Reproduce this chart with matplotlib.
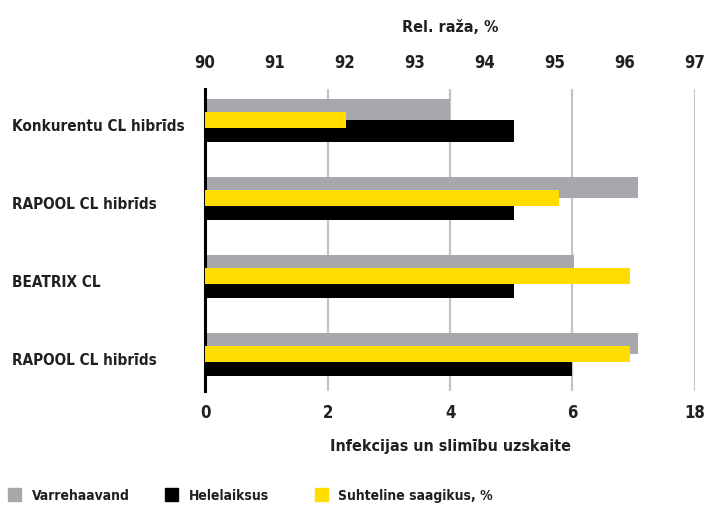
import numpy as np
import matplotlib
matplotlib.use("Agg")
from matplotlib import pyplot as plt
from matplotlib import font_manager
from matplotlib.patches import Rectangle

# look for a narrow / condensed face, otherwise fall back to DejaVu Sans
narrow = None
for f in font_manager.fontManager.ttflist:
    if ('Narrow' in f.name or 'Condensed' in f.name or f.stretch in ('condensed', 'semi-condensed')) and f.weight in ('bold', 700):
        narrow = f
        break
scale = 1.0
if narrow is not None:
    plt.rcParams['font.family'] = [narrow.name, 'DejaVu Sans']
    plt.rcParams['font.stretch'] = narrow.stretch
else:
    plt.rcParams['font.family'] = ['DejaVu Sans']
    scale = 0.8
plt.rcParams['font.weight'] = 'bold'

categories = ["Konkurentu CL hibrīds", "RAPOOL CL hibrīds", "BEATRIX CL", "RAPOOL CL hibrīds"]
varrehaavand = [4.0, 7.07, 6.02, 7.07]
helelaiksus = [5.05, 5.05, 5.05, 6.0]
saagikus = [92.01, 95.06, 96.07, 96.07]
bottom_ticks = [0, 2, 4, 6, 8]
bottom_labels = ["0", "2", "4", "6", "18"]
top_ticks = [90, 91, 92, 93, 94, 95, 96, 97]

grey = "#a7a8ab"
yellow = "#ffdd00"
txt = "#231f20"

fig = plt.figure(figsize=(7.05, 5.06), dpi=100)
ax = fig.add_axes([0.2908, 0.2253, 0.695, 0.597])

y = np.arange(len(categories))
h = 0.276
ax.barh(y - h / 2 + 0.02, varrehaavand, height=h, color=grey, zorder=2)
ax.barh(y + h / 2 + 0.02, helelaiksus, height=h, color="black", zorder=2)
ax.set_xlim(0, 8)
ax.set_ylim(3.49, -0.385)
ax.set_xticks(bottom_ticks)
ax.set_xticklabels(bottom_labels, fontsize=12 * scale, color=txt, fontweight='bold')
ax.tick_params(axis='x', length=0, pad=9)
ax.set_yticks([])
ax.grid(axis='x', color="#c4c4c4", linewidth=1.6, zorder=1)
ax.set_axisbelow(True)
for s in ["top", "right", "bottom"]:
    ax.spines[s].set_visible(False)
ax.spines["left"].set_linewidth(2.2)
ax.spines["left"].set_zorder(5)
ax.set_xlabel("Infekcijas un slimību uzskaite", fontsize=11.5 * scale, color=txt,
              fontweight='bold', labelpad=12)

ax2 = ax.twiny()
ax2.barh(y + 0.02, [v - 90 for v in saagikus], left=90, height=0.205, color=yellow, zorder=3)
ax2.set_xlim(90, 97)
ax2.set_xticks(top_ticks)
ax2.set_xticklabels([str(t) for t in top_ticks], fontsize=12 * scale, color=txt, fontweight='bold')
ax2.tick_params(axis='x', length=0, pad=13)
for s in ["top", "right", "bottom", "left"]:
    ax2.spines[s].set_visible(False)
ax2.set_xlabel("Rel. raža, %", fontsize=11.5 * scale, color=txt, fontweight='bold', labelpad=16)

for i, c in enumerate(categories):
    ax.text(-193 / (0.695 * 705), i + 0.08, c,
            transform=ax.get_yaxis_transform(), ha='left', va='center',
            fontsize=11 * scale, color=txt, fontweight='bold')

legend_items = [("Varrehaavand", grey, 8, 32), ("Helelaiksus", "black", 165, 189),
                ("Suhteline saagikus, %", yellow, 315, 338)]
for name, col, x0, xt in legend_items:
    fig.patches.append(Rectangle((x0 / 705, 1 - 502 / 506), 13 / 705, 13 / 506,
                                 transform=fig.transFigure, color=col))
    fig.text(xt / 705, 1 - 496 / 506, name, ha='left', va='center',
             fontsize=10 * scale, color=txt, fontweight='bold')

fig.savefig("out.png", dpi=100)
